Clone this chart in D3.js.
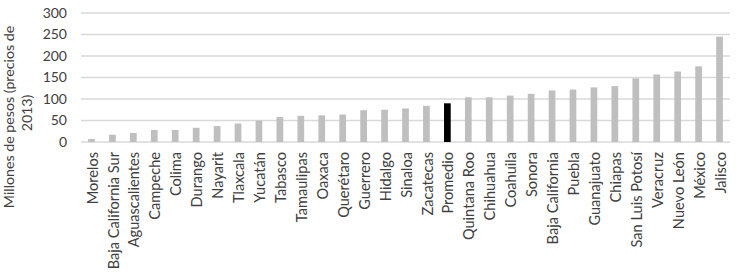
<!DOCTYPE html>
<html>
<head>
<meta charset="utf-8">
<script src="https://cdn.jsdelivr.net/npm/d3@7"></script>
<style>
  body { margin: 0; background: #fff; }
  text { font-family: Lato, "Open Sans", sans-serif; fill: #404040; }
</style>
</head>
<body>
<div id="chart"></div>
<script>
const estados = ["Morelos", "Baja California Sur", "Aguascalientes", "Campeche", "Colima", "Durango",
  "Nayarit", "Tlaxcala", "Yucatán", "Tabasco", "Tamaulipas", "Oaxaca", "Querétaro", "Guerrero",
  "Hidalgo", "Sinaloa", "Zacatecas", "Promedio", "Quintana Roo", "Chihuahua", "Coahuila", "Sonora",
  "Baja California", "Puebla", "Guanajuato", "Chiapas", "San Luis Potosí", "Veracruz", "Nuevo León",
  "México", "Jalisco"];
const valores = [7, 17, 21, 28, 28, 33, 37, 43, 50, 58, 61, 62, 64, 74, 75, 78, 84, 90, 104, 104,
  108, 112, 120, 122, 127, 130, 148, 157, 164, 176, 245];
const yTicks = [0, 50, 100, 150, 200, 250, 300];
const destacado = "Promedio";

const width = 737, height = 273;
const margin = { top: 13, right: 7, bottom: 131, left: 81 };

const svg = d3.select("#chart").append("svg")
  .attr("width", width)
  .attr("height", height);

const x = d3.scaleBand()
  .domain(estados)
  .range([margin.left, width - margin.right])
  .paddingInner(0.68)
  .paddingOuter(0.34);

const y = d3.scaleLinear()
  .domain([0, 300])
  .range([height - margin.bottom, margin.top]);

// gridlines
svg.append("g")
  .selectAll("line")
  .data(yTicks)
  .join("line")
  .attr("x1", margin.left)
  .attr("x2", width - margin.right)
  .attr("y1", d => y(d))
  .attr("y2", d => y(d))
  .attr("stroke", "#d9d9d9")
  .attr("stroke-width", 1.3);

// y axis labels
const yAxis = svg.append("g")
  .attr("transform", `translate(${margin.left - 14},0)`)
  .call(d3.axisLeft(y).tickValues(yTicks).tickSize(0).tickPadding(0));
yAxis.select(".domain").remove();
yAxis.selectAll("text")
  .style("font-size", "14px")
  .style("font-family", "Lato, sans-serif")
  .attr("fill", "#404040");

// bars
svg.append("g")
  .selectAll("rect")
  .data(estados)
  .join("rect")
  .attr("x", d => x(d))
  .attr("width", x.bandwidth())
  .attr("y", (d, i) => y(valores[i]))
  .attr("height", (d, i) => y(0) - y(valores[i]))
  .attr("fill", d => d === destacado ? "#000000" : "#bfbfbf");

// x axis labels
const xAxis = svg.append("g")
  .attr("transform", `translate(0,${y(0)})`)
  .call(d3.axisBottom(x).tickSize(0).tickPadding(0));
xAxis.select(".domain").remove();
xAxis.selectAll("text")
  .attr("transform", "rotate(-90)")
  .attr("text-anchor", "end")
  .attr("x", -10)
  .attr("y", 1)
  .attr("dy", "0.35em")
  .style("font-size", "14.6px")
  .style("font-family", "Lato, sans-serif")
  .attr("fill", "#404040");

// y axis title
const title = svg.append("text")
  .attr("transform", "rotate(-90)")
  .attr("text-anchor", "middle")
  .style("font-size", "14.2px");
title.append("tspan")
  .attr("x", -117)
  .attr("y", 14)
  .text("Millones de pesos (precios de");
title.append("tspan")
  .attr("x", -113)
  .attr("y", 32)
  .text("2013)");
</script>
</body>
</html>
